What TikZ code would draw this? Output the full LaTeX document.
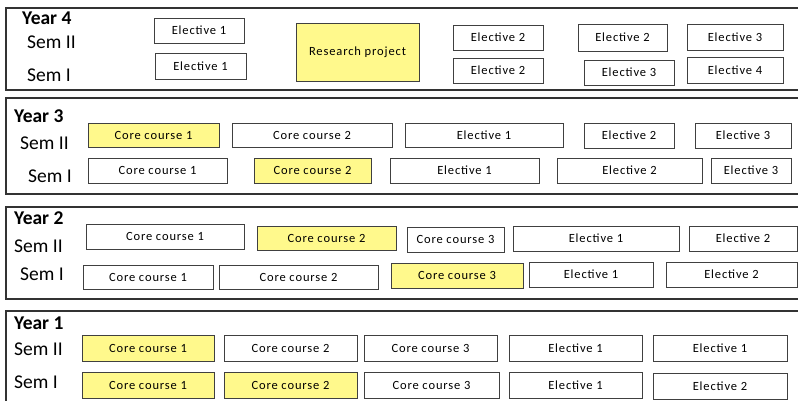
\documentclass[tikz,border=0pt]{standalone}
\usepackage{fontspec}
\setmainfont{Carlito}
\newfontfamily\boxfont[LetterSpace=7]{Carlito}
\begin{document}
\begin{tikzpicture}[x=1pt,y=-1pt,
  frame/.style={draw=black!80,line width=1.1pt,inner sep=0pt,outer sep=0pt},
  cbox/.style={draw=black!75,line width=0.8pt,fill=white,inner sep=0pt,outer sep=0pt,font=\boxfont\fontsize{12.5}{14}\selectfont},
  ybox/.style={cbox,fill=yellow!45},
  yr/.style={anchor=west,inner sep=0pt,font=\fontsize{19.5}{22}\selectfont\bfseries},
  sem/.style={anchor=west,inner sep=0pt,font=\fontsize{19.5}{22}\selectfont}]
\useasboundingbox (0,0) rectangle (798,401);
\clip (0,0) rectangle (798,401);
\newcommand\bx[7]{\node[#7,minimum width={#4pt-#2pt},minimum height={#5pt-#3pt}] (#1) at ({(#2+#4)/2},{(#3+#5)/2}) {#6};}
% frames
\bx{f4}{6}{8}{810}{90}{}{frame}
\bx{f3}{6}{98}{810}{194}{}{frame}
\bx{f2}{6}{207}{810}{299}{}{frame}
\bx{f1}{6}{311}{810}{410}{}{frame}
% labels
\node[yr] (y4) at (22,18) {Year 4};
\node[sem] (y4s2) at (27,42) {Sem II};
\node[sem] (y4s1) at (27,75) {Sem I};
\node[yr] (y3) at (14,116) {Year 3};
\node[sem] (y3s2) at (20,143) {Sem II};
\node[sem] (y3s1) at (28,176) {Sem I};
\node[yr] (y2) at (14,218) {Year 2};
\node[sem] (y2s2) at (14,246) {Sem II};
\node[sem] (y2s1) at (20,274) {Sem I};
\node[yr] (y1) at (14,323) {Year 1};
\node[sem] (y1s2) at (14,349) {Sem II};
\node[sem] (y1s1) at (14,382) {Sem I};
% Year 4
\bx{a1}{154}{18}{244}{43}{Elective 1}{cbox}
\bx{a2}{155}{53}{246}{79}{Elective 1}{cbox}
\bx{a3}{296}{23}{419}{81}{Research project}{ybox}
\bx{a4}{453}{25}{543}{50}{Elective 2}{cbox}
\bx{a5}{453}{58}{543}{83}{Elective 2}{cbox}
\bx{a6}{578}{24}{667}{51}{Elective 2}{cbox}
\bx{a7}{584}{60}{674}{85}{Elective 3}{cbox}
\bx{a8}{687}{24}{783}{50}{Elective 3}{cbox}
\bx{a9}{687}{57}{783}{83}{Elective 4}{cbox}
% Year 3
\bx{b1}{88}{123}{219}{147}{Core course 1}{ybox}
\bx{b2}{232}{123}{392}{147}{Core course 2}{cbox}
\bx{b3}{405}{123}{563}{147}{Elective 1}{cbox}
\bx{b4}{584}{123}{674}{148}{Elective 2}{cbox}
\bx{b5}{695}{123}{791}{148}{Elective 3}{cbox}
\bx{b6}{88}{158}{227}{183}{Core course 1}{cbox}
\bx{b7}{254}{158}{371}{183}{Core course 2}{ybox}
\bx{b8}{390}{158}{539}{183}{Elective 1}{cbox}
\bx{b9}{557}{158}{702}{183}{Elective 2}{cbox}
\bx{b10}{711}{158}{791}{183}{Elective 3}{cbox}
% Year 2
\bx{c1}{86}{224}{244}{249}{Core course 1}{cbox}
\bx{c2}{257}{226}{396}{250}{Core course 2}{ybox}
\bx{c3}{407}{227}{504}{252}{Core course 3}{cbox}
\bx{c4}{513}{226}{679}{251}{Elective 1}{cbox}
\bx{c5}{689}{226}{797}{251}{Elective 2}{cbox}
\bx{c6}{83}{265}{213}{289}{Core course 1}{cbox}
\bx{c7}{219}{265}{378}{289}{Core course 2}{cbox}
\bx{c8}{391}{263}{523}{288}{Core course 3}{ybox}
\bx{c9}{529}{262}{653}{287}{Elective 1}{cbox}
\bx{c10}{666}{262}{797}{287}{Elective 2}{cbox}
% Year 1
\bx{d1}{82}{335}{214}{361}{Core course 1}{ybox}
\bx{d2}{224}{335}{357}{361}{Core course 2}{cbox}
\bx{d3}{364}{335}{497}{361}{Core course 3}{cbox}
\bx{d4}{509}{335}{642}{361}{Elective 1}{cbox}
\bx{d5}{653}{335}{787}{361}{Elective 1}{cbox}
\bx{d6}{82}{372}{214}{398}{Core course 1}{ybox}
\bx{d7}{224}{372}{357}{398}{Core course 2}{ybox}
\bx{d8}{364}{372}{499}{398}{Core course 3}{cbox}
\bx{d9}{509}{372}{642}{398}{Elective 1}{cbox}
\bx{d10}{653}{373}{787}{399}{Elective 2}{cbox}
\end{tikzpicture}
\end{document}
